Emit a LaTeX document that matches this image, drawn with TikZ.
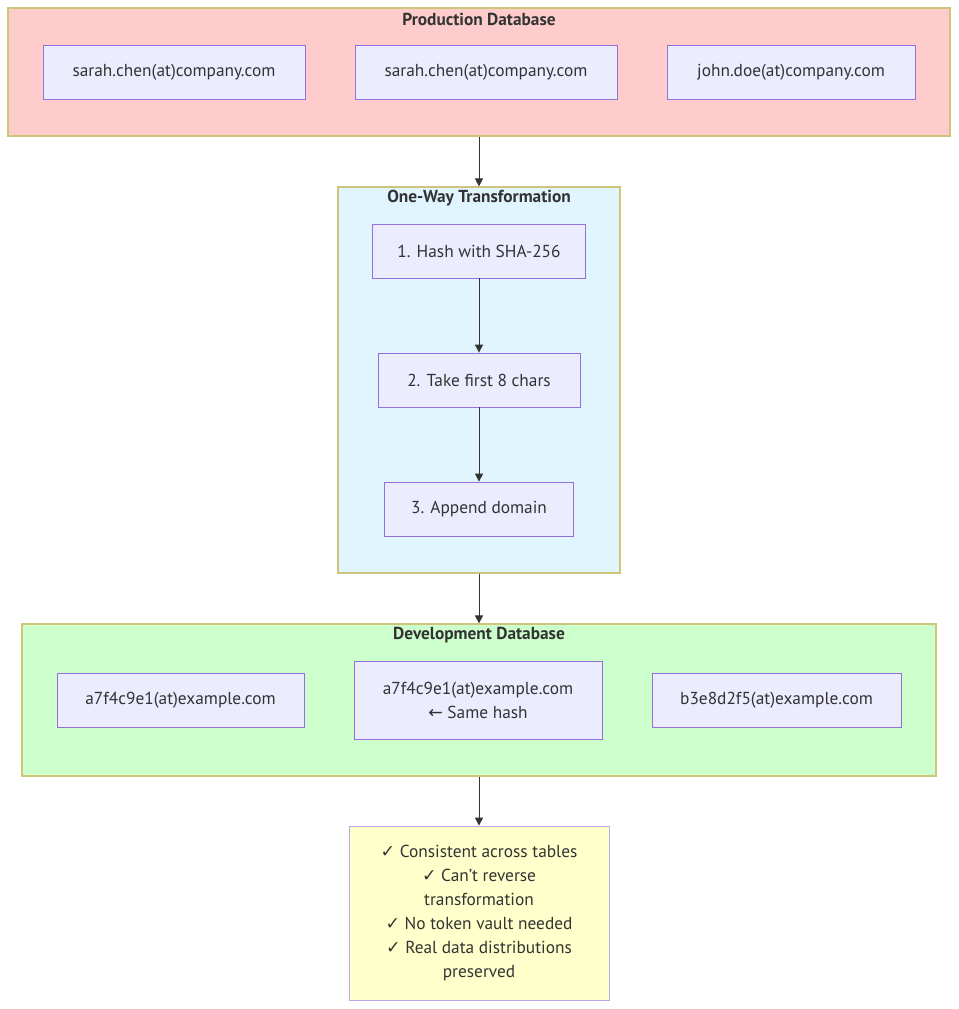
\documentclass[tikz,border=0pt]{standalone}
\usepackage{fontspec}
\setmainfont{PT Sans}
\newfontfamily\symfont{DejaVu Sans}
\usepackage{tikz}
\usetikzlibrary{arrows.meta, positioning}
\definecolor{nodefill}{HTML}{ECECFF}
\definecolor{nodedraw}{HTML}{9370DB}
\definecolor{textgray}{HTML}{333333}
\definecolor{prodfill}{HTML}{FFCCCC}
\definecolor{wayfill}{HTML}{E1F5FE}
\definecolor{devfill}{HTML}{CCFFCC}
\definecolor{benefitfill}{HTML}{FFFFCC}
\definecolor{benefitdraw}{HTML}{BFA6E6}
\definecolor{clusterdraw}{HTML}{CDC57A}
\newcommand{\upx}{0.75pt}
\newcommand{\chk}{{\symfont\char"2713}}
\tikzset{
	stepnode/.style={
			rectangle,
			draw=nodedraw,
			fill=nodefill,
			line width=0.6pt,
			text=textgray,
			font=\fontsize{13}{18}\selectfont,
			align=center,
			minimum height=54*\upx,
			inner sep=0pt
		},
	clusternode/.style={
			rectangle,
			draw=clusterdraw,
			line width=0.9pt,
			inner sep=0pt
		},
	clustertitle/.style={
			text=textgray,
			font=\fontsize{13}{15}\selectfont\bfseries,
			inner sep=0pt
		},
	benefitnode/.style={
			stepnode,
			draw=benefitdraw,
			fill=benefitfill
		},
	flow/.style={
			-{Triangle[length=6pt,width=6pt]},
			draw=textgray,
			line width=0.75pt
		}
}

\begin{document}
\begin{tikzpicture}[x=0.75pt, y=-0.75pt]
	\useasboundingbox (0,0) rectangle (958,1009);
	% clusters
	\node[clusternode, fill=prodfill, minimum width=942*\upx, minimum height=128*\upx] at (479,72) (prod) {};
	\node[clustertitle] at (479,19) (prodtitle) {Production Database};
	\node[clusternode, fill=wayfill, minimum width=282*\upx, minimum height=386*\upx] at (479,380) (oneway) {};
	\node[clustertitle] at (479,198) (onewaytitle) {One-Way Transformation};
	\node[clusternode, fill=devfill, minimum width=914*\upx, minimum height=152*\upx] at (479,700) (dev) {};
	\node[clustertitle] at (479,635) (devtitle) {Development Database};
	% production rows
	\node[stepnode, minimum width=262*\upx] at (174,72) (prodA) {sarah.chen(at)company.com};
	\node[stepnode, minimum width=262*\upx] at (486,72) (prodB) {sarah.chen(at)company.com};
	\node[stepnode, minimum width=248*\upx] at (791,72) (prodC) {john.doe(at)company.com};
	% transformation steps
	\node[stepnode, minimum width=213*\upx] at (479,251) (hash) {1. Hash with SHA-256};
	\node[stepnode, minimum width=202*\upx] at (479,380) (take) {2. Take first 8 chars};
	\node[stepnode, minimum width=189*\upx] at (479,509) (append) {3. Append domain};
	% development rows
	\node[stepnode, minimum width=247*\upx] at (180.5,700) (devA) {a7f4c9e1(at)example.com};
	\node[stepnode, minimum width=248*\upx, minimum height=78*\upx] at (478,700) (devB) {a7f4c9e1(at)example.com\\{\symfont\char"2190} Same hash};
	\node[stepnode, minimum width=249*\upx] at (776.5,700) (devC) {b3e8d2f5(at)example.com};
	% benefits
	\node[benefitnode, minimum width=260*\upx, minimum height=174*\upx] at (479,913) (benefits) {\chk{} Consistent across tables\\\chk{} Can{\char"27}t reverse\\transformation\\\chk{} No token vault needed\\\chk{} Real data distributions\\preserved};
	% connectors
	\draw[flow] (prod.south) -- (oneway.north);
	\draw[flow] (hash) -- (take);
	\draw[flow] (take) -- (append);
	\draw[flow] (oneway.south) -- (dev.north);
	\draw[flow] (dev.south) -- (benefits.north);
\end{tikzpicture}
\end{document}
